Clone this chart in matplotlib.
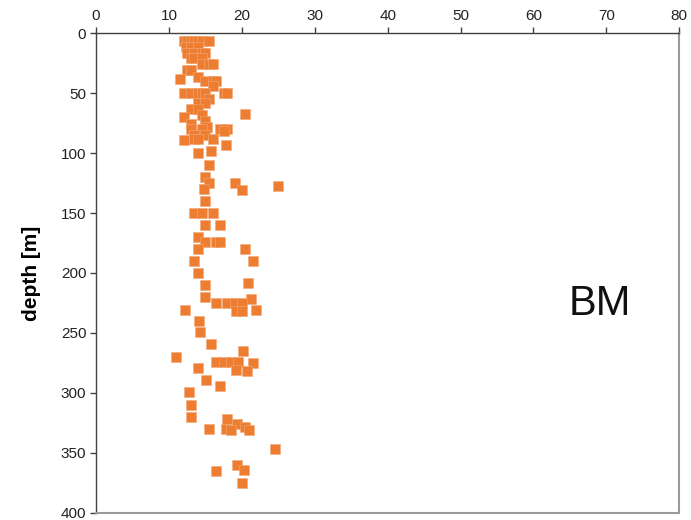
import matplotlib
matplotlib.use("Agg")
import matplotlib.pyplot as plt

plt.rcParams['font.family'] = ['Liberation Sans', 'DejaVu Sans']

# Measured values (x) against sampling depth in metres
value = [
    12.0, 12.5, 13.0, 13.5, 14.0, 14.5, 15.5,
    12.3, 13.0, 14.0,
    12.5, 13.5, 14.5, 15.0,
    13.0, 13.5, 14.5,
    14.5, 15.5, 16.0,
    12.5, 13.0,
    11.5, 14.0,
    15.0, 16.0, 16.5, 16.0,
    12.0, 13.0, 14.0, 14.5, 15.0, 17.5, 18.0,
    15.5, 14.0, 15.0, 13.0, 14.0,
    14.5, 20.4, 12.0, 15.0, 13.0, 15.2,
    13.0, 14.5, 17.0, 18.0, 17.5,
    13.5, 15.0, 12.0, 13.5, 14.0, 16.0, 17.8,
    14.0, 15.7, 15.5, 15.0, 15.5, 19.0, 25.0, 14.8, 20.0,
    15.0, 13.5, 14.5, 16.0, 15.0, 17.0,
    14.0, 15.0, 16.5, 17.0, 14.0, 20.5,
    13.5, 21.5, 14.0, 20.8, 15.0, 15.0, 21.2,
    16.5, 18.0, 19.0, 20.0, 12.2, 22.0, 19.2, 20.0,
    14.1, 14.3, 15.8, 20.2, 11.0,
    16.5, 17.5, 18.5, 19.5, 21.5, 19.2, 20.7, 14.0,
    15.1, 17.0, 12.8, 13.0, 13.0,
    18.0, 19.3, 15.5, 17.8, 18.5, 20.5, 21.0,
    24.5, 19.3, 16.5, 20.3, 20.0,
]
depth = [
    7, 7, 7, 7, 7, 7, 7,
    12, 12, 12,
    17, 17, 17, 17,
    21, 21, 21,
    26, 26, 26,
    31, 31,
    38, 37,
    40, 40, 40, 44,
    50, 50, 50, 50, 50, 50, 50,
    55, 58, 58, 63, 63,
    68, 67.5, 70, 73, 76, 78,
    80, 80, 80, 80, 82,
    85, 85, 89, 88, 88, 88, 93,
    100, 98, 110, 120, 125, 125, 127.5, 130, 131,
    140, 150, 150, 150, 160, 160,
    170, 174, 174, 174, 180, 180,
    190, 190, 200, 208, 210, 220, 222,
    225, 225, 225, 225, 231, 231, 232, 232,
    240, 249, 259, 265, 270,
    274, 274, 274, 274, 275, 281, 282, 279,
    289, 294, 299, 310, 320,
    322, 326, 330, 330, 331, 328, 331,
    347, 360, 365, 364, 375,
]

x_ticks = [0, 10, 20, 30, 40, 50, 60, 70, 80]
y_ticks = [0, 50, 100, 150, 200, 250, 300, 350, 400]

fig = plt.figure(figsize=(6.91, 5.20), dpi=100)
ax = fig.add_axes([0.139, 0.0135, 0.844, 0.923])

ax.scatter(value, depth, marker='s', s=52, color='#ED7D31',
           edgecolors='#F4A878', linewidths=0.4, zorder=3)

ax.set_xlim(0, 80)
ax.set_ylim(400, 0)
ax.set_xticks(x_ticks)
ax.set_yticks(y_ticks)
ax.xaxis.tick_top()
ax.tick_params(axis='both', direction='out', length=4, width=1,
               color='#404040', labelsize=11, labelcolor='#222222', pad=3)
ax.tick_params(axis='x', top=True, bottom=False)
ax.tick_params(axis='y', right=False)

for side in ('top', 'left'):
    ax.spines[side].set_color('#404040')
    ax.spines[side].set_linewidth(1.0)
for side in ('right', 'bottom'):
    ax.spines[side].set_color('#9a9a9a')
    ax.spines[side].set_linewidth(1.5)

ax.set_ylabel('depth [m]', fontsize=15, fontweight='bold', labelpad=14)

ax.text(69.1, 226, 'BM', fontsize=30, ha='center', va='center', color='#111111')

fig.savefig('out.png', dpi=100)
